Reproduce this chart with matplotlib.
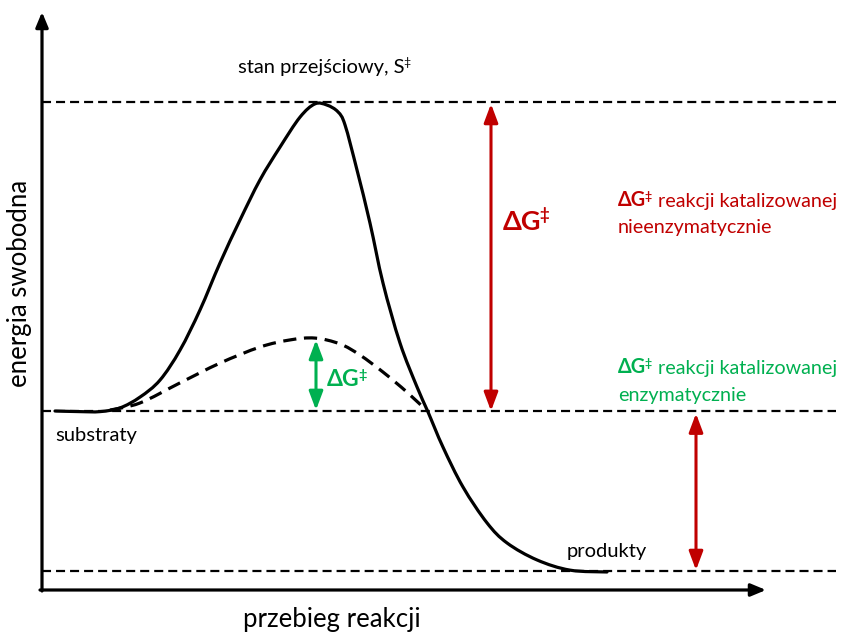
import matplotlib
matplotlib.use("Agg")
import matplotlib.pyplot as plt
from matplotlib.path import Path
from matplotlib.patches import PathPatch
import numpy as np

plt.rcParams['font.family'] = ['Lato', 'DejaVu Sans']
plt.rcParams['lines.scale_dashes'] = False

# ---- data (reaction coordinate in px-like units, free energy in arbitrary units) ----
uncat_x = [55, 80, 100, 120, 140, 160, 180, 200, 220, 240, 260, 280, 300, 315, 327, 338,
           345, 357, 370, 383, 400, 417, 428, 443, 463, 487, 507, 537, 570, 607]
uncat_G = [0.0, -0.2, -0.2, 1.0, 4.5, 10.0, 19.7, 32.7, 47.9, 61.8, 74.8, 85.4, 95.1, 99.4,
           99.0, 96.8, 92.6, 78.0, 60.8, 41.4, 22.0, 7.8, -0.3, -11.7, -24.6, -36.2, -42.7,
           -48.2, -51.5, -52.1]
enz_x = [110, 140, 180, 220, 260, 290, 315, 340, 360, 383, 407, 427]
enz_G = [0.3, 2.6, 9.1, 15.5, 20.7, 23.0, 23.6, 21.7, 18.1, 12.6, 6.1, 0.0]

G_substrate = 0.0
G_transition = 100.0
G_enzyme_ts = 23.3
G_product = -51.8

RED = '#C00000'
GREEN = '#00B050'

# pixel layout helpers (figure 844x634 px)
SCALE = 3.09
def Y(py):
    return (411 - py) / SCALE

fig = plt.figure(figsize=(8.44, 6.34), dpi=100)
ax = fig.add_axes([0, 0, 1, 1])
ax.set_xlim(0, 844)
ax.set_ylim(Y(634), Y(0))
ax.axis('off')

# reference dashed levels
for g in (G_transition, G_substrate, G_product):
    ax.plot([42, 836], [g, g], color='black', lw=1.6, dashes=(6.5, 3.6), solid_capstyle='butt')

# smooth curve through the read points (Bezier segments drawn by matplotlib Path)
def smooth_path(xs, ys):
    P = np.column_stack([xs, ys]).astype(float)
    P = np.column_stack([P[:, 0], P[:, 1] * SCALE])  # isotropic (pixel) space for tangents
    verts = [P[0]]
    codes = [Path.MOVETO]
    n = len(P)
    for i in range(n - 1):
        p0 = P[i - 1] if i > 0 else P[i]
        p1, p2 = P[i], P[i + 1]
        p3 = P[i + 2] if i + 2 < n else P[i + 1]
        c1 = p1 + (p2 - p0) / 6.0
        c2 = p2 - (p3 - p1) / 6.0
        verts += [c1, c2, p2]
        codes += [Path.CURVE4] * 3
    V = np.array(verts)
    V[:, 1] /= SCALE
    return Path(V, codes)

ax.add_patch(PathPatch(smooth_path(uncat_x, uncat_G), fill=False, color='black',
                       lw=2.3, joinstyle='round', capstyle='round'))
ax.add_patch(PathPatch(smooth_path(enz_x, enz_G), fill=False, color='black',
                       lw=2.3, linestyle=(0, (9.5, 5.5)), capstyle='butt'))

# axes arrows
axprops = dict(arrowstyle='-|>,head_length=0.6,head_width=0.25', mutation_scale=15,
               lw=2.3, color='black', shrinkA=0, shrinkB=0)
ax.annotate('', xy=(42, Y(12)), xytext=(42, Y(591)), arrowprops=axprops)
ax.annotate('', xy=(766, Y(590)), xytext=(40, Y(590)), arrowprops=axprops)

# double arrows
def darrow(x, g1, g2, color):
    ax.annotate('', xy=(x, g1), xytext=(x, g2),
                arrowprops=dict(arrowstyle='<|-|>,head_length=0.8,head_width=0.3',
                                mutation_scale=14, lw=2.2, color=color,
                                shrinkA=0, shrinkB=0))

darrow(491, G_transition - 0.6, G_substrate, RED)
darrow(696, G_substrate - 0.8, G_product + 0.3, RED)
darrow(316, G_enzyme_ts - 0.3, G_substrate + 0.3, GREEN)

# texts
def sup(base, size, color='black', weight='bold'):
    return ax.annotate('‡', xy=(1.0, 0), xycoords=base, xytext=(-size * 0.06, size * 0.40),
                       textcoords='offset points', color=color, fontsize=size * 0.62,
                       fontweight=weight, ha='left', va='bottom')

def dg(x, y, color, size):
    t = ax.text(x, y, 'ΔG', color=color, fontsize=size, fontweight='bold',
                ha='left', va='center')
    s = sup(t, size, color)
    return t, s

FS = 14.2
def label(x, y, color, line1, line2):
    t, s = dg(x, y, color, FS)
    ax.annotate(line1, xy=(1, 0), xycoords=(s, t), xytext=(4.5, 0), textcoords='offset points',
                color=color, fontsize=FS, ha='left', va='bottom')
    ax.text(x, y - 28 / SCALE, line2, color=color, fontsize=FS, ha='left', va='center')

label(618, Y(200), RED, 'reakcji katalizowanej', 'nieenzymatycznie')
label(618, Y(367), GREEN, 'reakcji katalizowanej', 'enzymatycznie')

dg(503, Y(222), RED, 19.5)
dg(327, Y(380), GREEN, 16.5)

t = ax.text(238, Y(68), 'stan przejściowy, S', fontsize=14.5, ha='left', va='center')
sup(t, 14.5, weight='normal')

ax.text(55, Y(436), 'substraty', fontsize=14.5, ha='left', va='center')
ax.text(567, Y(551), 'produkty', fontsize=14.5, ha='left', va='center')
ax.text(332, Y(620), 'przebieg reakcji', fontsize=18.5, ha='center', va='center')
ax.text(20, Y(283), 'energia swobodna', fontsize=18.5, ha='center', va='center', rotation=90)

fig.savefig('out.png', dpi=100)
